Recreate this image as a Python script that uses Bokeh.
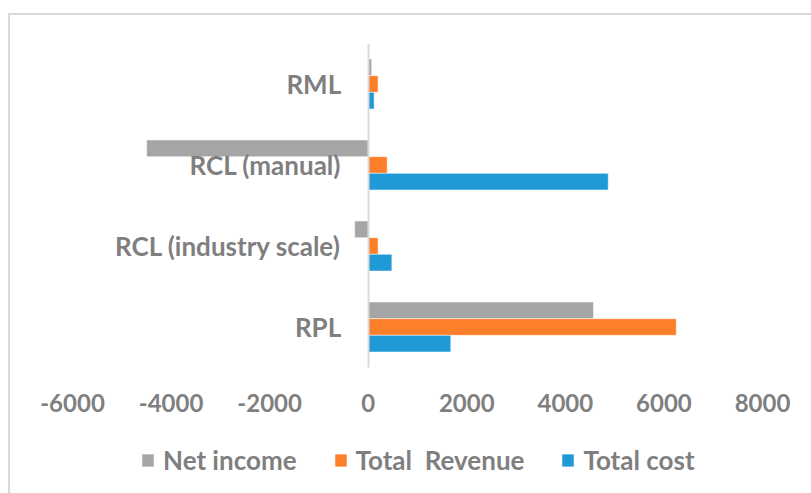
from bokeh.plotting import figure
from bokeh.models import (Range1d, Legend, LegendItem, FixedTicker,
                          ColumnDataSource, InlineStyleSheet)
from bokeh.transform import dodge
from bokeh.embed import file_html
from bokeh.resources import INLINE

categories = ["RPL", "RCL (industry scale)", "RCL (manual)", "RML"]
net_income = [4570, -275, -4495, 70]
total_revenue = [6250, 200, 385, 200]
total_cost = [1675, 480, 4870, 120]
x_ticks = [-6000, -4000, -2000, 0, 2000, 4000, 6000, 8000]
series_names = ["Net income", "Total  Revenue", "Total cost"]

FONT = "Lato"
TXT = "#7f7f7f"
GRAY, ORANGE, BLUE = "#a5a5a5", "#fe7f2a", "#1f9ad6"

ypos = list(range(len(categories)))
source = ColumnDataSource(dict(y=ypos, cat=categories, net=net_income, rev=total_revenue, cost=total_cost))

# frame covers the whole canvas so that edge tick labels and legend are not clipped
W, H = 811, 493
TOP = 43
FRAME_H = H - TOP
BAND_PX = 81                       # pixels per category band
y_end = len(categories) - 0.5
y_start = y_end - FRAME_H / BAND_PX
PX_PER_UNIT = 690 / (x_ticks[-1] - x_ticks[0])
x_start = x_ticks[0] - 72 / PX_PER_UNIT
x_end = x_ticks[-1] + 49 / PX_PER_UNIT

p = figure(x_range=Range1d(x_start, x_end), y_range=Range1d(y_start, y_end),
           frame_width=W, frame_height=FRAME_H,
           min_border_left=0, min_border_right=0, min_border_top=TOP, min_border_bottom=0,
           output_backend="svg", toolbar_location=None)
p.outline_line_color = None
p.grid.visible = False

# x axis drawn at the bottom of the category area
p.xaxis.fixed_location = -0.5
p.xaxis.ticker = FixedTicker(ticks=x_ticks)
p.xaxis.major_label_overrides = {t: str(t) for t in x_ticks}
p.xaxis.axis_line_color = None
p.xaxis.major_tick_line_color = None
p.xaxis.minor_tick_line_color = None
p.xaxis.major_label_standoff = 20
p.xaxis.major_label_text_font = FONT
p.xaxis.major_label_text_font_size = "24px"
p.xaxis.major_label_text_font_style = "bold"
p.xaxis.major_label_text_color = TXT

# category axis drawn at x = 0
p.yaxis.fixed_location = 0
p.yaxis.bounds = (-0.5, y_end)
p.yaxis.ticker = FixedTicker(ticks=ypos)
p.yaxis.major_label_overrides = {i: c for i, c in zip(ypos, categories)}
p.yaxis.axis_line_color = "#d9d9d9"
p.yaxis.axis_line_width = 2
p.yaxis.major_tick_line_color = None
p.yaxis.minor_tick_line_color = None
p.yaxis.major_label_standoff = 21
p.yaxis.major_label_text_font = FONT
p.yaxis.major_label_text_font_size = "26px"
p.yaxis.major_label_text_font_style = "bold"
p.yaxis.major_label_text_color = TXT

# light gray chart border (top/left visible, rest runs past the window)
p.stylesheets = [InlineStyleSheet(css="""
:host { overflow: hidden; position: relative; }
:host::after { content: ""; position: absolute; left: 8px; top: 13px; right: -20px; bottom: -20px;
  border: 2px solid #d9d9d9; pointer-events: none; }
""")]

h = 0.206
r_net = p.hbar(y=dodge("y", h), right="net", left=0, height=h, source=source,
               fill_color=GRAY, line_color="white", line_width=0.5, level="underlay")
r_rev = p.hbar(y=dodge("y", 0), right="rev", left=0, height=h, source=source,
               fill_color=ORANGE, line_color="white", line_width=0.5, level="underlay")
r_cost = p.hbar(y=dodge("y", -h), right="cost", left=0, height=h, source=source,
                fill_color=BLUE, line_color="white", line_width=0.5, level="underlay")

legend = Legend(items=[LegendItem(label=series_names[0], renderers=[r_net]),
                       LegendItem(label=series_names[1], renderers=[r_rev]),
                       LegendItem(label=series_names[2], renderers=[r_cost])],
                orientation="horizontal", location=(140, 17),
                label_text_font=FONT, label_text_font_size="26px", label_text_font_style="bold",
                label_text_color=TXT, glyph_width=15, glyph_height=16, label_standoff=8,
                spacing=36, padding=0, margin=0, border_line_color=None, background_fill_alpha=0)
p.add_layout(legend, "center")

open("out.html", "w").write(file_html(p, INLINE))
